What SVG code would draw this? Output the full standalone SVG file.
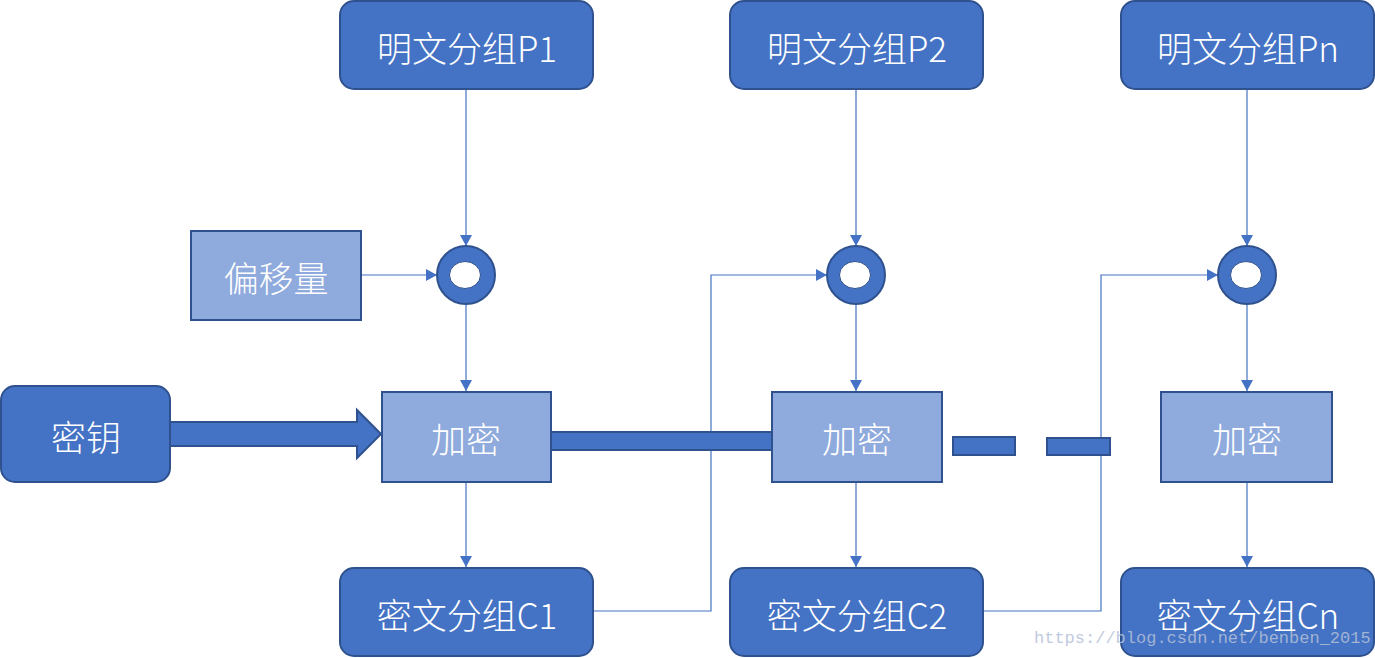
<svg xmlns="http://www.w3.org/2000/svg" width="1375" height="658" viewBox="0 0 1375 658">
<defs>
<style>
.dark{fill:#4472C4;stroke:#2F528F;stroke-width:2}
.light{fill:#8FAADC;stroke:#2F528F;stroke-width:2}
.t{font-family:"Noto Sans CJK SC",sans-serif;font-size:35px;font-weight:300;fill:#FFFFFF;text-anchor:middle;dominant-baseline:central}
.c{fill:none;stroke:#4472C4;stroke-width:1.2}
.wm{font-family:"Liberation Mono",monospace;font-size:17px;fill:#B4C0D8;fill-opacity:0.85}
</style>
<marker id="ah" markerWidth="12" markerHeight="12" refX="11" refY="6" orient="auto" markerUnits="userSpaceOnUse">
<path d="M0,0 L11,6 L0,12 Z" fill="#4472C4"/>
</marker>
</defs>
<rect width="1375" height="658" fill="#FFFFFF"/>

<g id="connectors">
<line class="c" x1="466" y1="90" x2="466" y2="246" marker-end="url(#ah)"/>
<line class="c" x1="856" y1="90" x2="856" y2="246" marker-end="url(#ah)"/>
<line class="c" x1="1247" y1="90" x2="1247" y2="246" marker-end="url(#ah)"/>
<line class="c" x1="361" y1="275" x2="437" y2="275" marker-end="url(#ah)"/>
<line class="c" x1="466" y1="305" x2="466" y2="391" marker-end="url(#ah)"/>
<line class="c" x1="856" y1="305" x2="856" y2="391" marker-end="url(#ah)"/>
<line class="c" x1="1247" y1="305" x2="1247" y2="391" marker-end="url(#ah)"/>
<line class="c" x1="466" y1="483" x2="466" y2="567" marker-end="url(#ah)"/>
<line class="c" x1="856" y1="483" x2="856" y2="567" marker-end="url(#ah)"/>
<line class="c" x1="1247" y1="483" x2="1247" y2="567" marker-end="url(#ah)"/>
<polyline class="c" points="593,611 711,611 711,275 827,275" marker-end="url(#ah)"/>
<polyline class="c" points="983,611 1101,611 1101,275 1218,275" marker-end="url(#ah)"/>
<polygon class="dark" points="170,422 357,422 357,410 381,434 357,458 357,446 170,446"/>
<rect class="dark" x="551" y="432" width="221" height="18"/>
<rect class="dark" x="953" y="437" width="62" height="18"/>
<rect class="dark" x="1047" y="438" width="63" height="17"/>
</g>

<g id="p1"><rect class="dark" x="340" y="1" width="253" height="88" rx="14"/><text class="t" x="467" y="46">明文分组P1</text></g>
<g id="p2"><rect class="dark" x="730" y="1" width="253" height="88" rx="14"/><text class="t" x="857" y="46">明文分组P2</text></g>
<g id="pn"><rect class="dark" x="1121" y="1" width="253" height="88" rx="14"/><text class="t" x="1248" y="46">明文分组Pn</text></g>

<g id="offset"><rect class="light" x="191" y="231" width="170" height="89"/><text class="t" x="276" y="276">偏移量</text></g>

<g id="xor1"><circle class="dark" cx="466" cy="275" r="29"/><ellipse cx="465" cy="275" rx="15.5" ry="13.5" fill="#FFFFFF" stroke="#2F528F" stroke-width="1"/></g>
<g id="xor2"><circle class="dark" cx="856" cy="275" r="29"/><ellipse cx="855" cy="275" rx="15.5" ry="13.5" fill="#FFFFFF" stroke="#2F528F" stroke-width="1"/></g>
<g id="xorn"><circle class="dark" cx="1247" cy="275" r="29"/><ellipse cx="1246" cy="275" rx="15.5" ry="13.5" fill="#FFFFFF" stroke="#2F528F" stroke-width="1"/></g>

<g id="key"><rect class="dark" x="1" y="386" width="169" height="96" rx="14"/><text class="t" x="86" y="435">密钥</text></g>

<g id="enc1"><rect class="light" x="382" y="392" width="169" height="90"/><text class="t" x="466" y="437">加密</text></g>
<g id="enc2"><rect class="light" x="772" y="392" width="170" height="90"/><text class="t" x="857" y="437">加密</text></g>
<g id="encn"><rect class="light" x="1161" y="392" width="171" height="90"/><text class="t" x="1247" y="437">加密</text></g>

<g id="c1"><rect class="dark" x="340" y="568" width="253" height="88" rx="14"/><text class="t" x="467" y="613">密文分组C1</text></g>
<g id="c2"><rect class="dark" x="730" y="568" width="253" height="88" rx="14"/><text class="t" x="857" y="613">密文分组C2</text></g>
<g id="cn"><rect class="dark" x="1121" y="568" width="253" height="88" rx="14"/><text class="t" x="1248" y="613">密文分组Cn</text></g>

<text class="wm" x="1034" y="643">https://blog.csdn.net/benben_2015</text>
</svg>
